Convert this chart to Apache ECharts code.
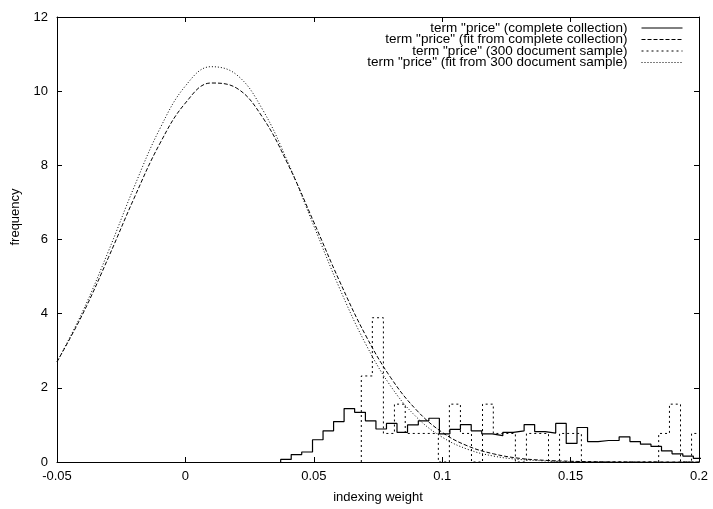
<!DOCTYPE html>
<html>
<head>
<meta charset="utf-8">
<title>term price</title>
<script src="https://cdn.jsdelivr.net/npm/echarts@6/dist/echarts.min.js"></script>
<style>
    html, body { margin: 0; padding: 0; background: #fff; }
    #table { width: 713px; height: 509px; }
</style>
</head>
<body>
<div id="table"></div>
<script>
// fit curves, sampled every 0.01 from -0.05
const fitX = [-0.05, -0.04, -0.03, -0.02, -0.01, 0, 0.01, 0.02, 0.03, 0.04, 0.05, 0.06, 0.07,
    0.08, 0.09, 0.1, 0.11, 0.12, 0.13, 0.14, 0.15, 0.16, 0.17, 0.18, 0.19, 0.2];
const fitComplete = [2.70, 3.99, 5.51, 7.11, 8.58, 9.68, 10.22, 10.08, 9.30, 8.02, 6.47, 4.88, 3.44,
    2.27, 1.40, 0.80, 0.43, 0.22, 0.10, 0.045, 0.02, 0.007, 0.002, 0, 0, 0];
const fitSample = [2.70, 4.06, 5.68, 7.41, 8.98, 10.14, 10.66, 10.44, 9.51, 8.07, 6.37, 4.69, 3.21,
    2.04, 1.21, 0.67, 0.34, 0.16, 0.07, 0.03, 0.01, 0.004, 0, 0, 0, 0];

// histogram of complete collection (bin edges + heights)
const completeEdges = [0.0371, 0.0412, 0.0453, 0.0495, 0.0536, 0.0577, 0.0618, 0.0659, 0.0701, 0.0742,
    0.0783, 0.0824, 0.0865, 0.0907, 0.0948, 0.0989, 0.1030, 0.1071, 0.1113, 0.1154,
    0.1195, 0.1236, 0.1277, 0.1319, 0.1360, 0.1401, 0.1442, 0.1483, 0.1525, 0.1566,
    0.1607, 0.1648, 0.1689, 0.1731, 0.1772, 0.1813, 0.1854, 0.1895, 0.1937, 0.1978, 0.2019];
const completeFreq = [0.07, 0.20, 0.27, 0.60, 0.84, 1.09, 1.44, 1.34, 1.11, 0.89,
    1.04, 0.80, 1.00, 1.11, 1.18, 0.76, 0.88, 1.01, 0.84, 0.76,
    0.71, 0.80, 0.84, 1.01, 0.82, 0.78, 1.04, 0.50, 0.93, 0.55,
    0.58, 0.58, 0.68, 0.55, 0.48, 0.42, 0.30, 0.22, 0.16, 0.10];

// histogram of 300 document sample
const sampleEdges = [0.0685, 0.0728, 0.0771, 0.0814, 0.0856, 0.0899, 0.0942, 0.0985, 0.1028, 0.1071,
    0.1114, 0.1157, 0.1199, 0.1242, 0.1285, 0.1328, 0.1371, 0.1414, 0.1457, 0.1500,
    0.1542, 0.1585, 0.1628, 0.1671, 0.1714, 0.1757, 0.1800, 0.1843, 0.1885, 0.1928, 0.1971, 0.2014];
const sampleFreq = [2.32, 3.89, 0.77, 1.56, 0.77, 0.77, 0.77, 0, 1.56, 0.77,
    0, 1.56, 0.77, 0.77, 0, 0.77, 0.77, 0, 0.77, 0.77,
    0, 0, 0, 0, 0, 0, 0, 0.77, 1.56, 0, 0.77];

const xTicks = [-0.05, 0.2, 0.05];   // min, max, interval
const yTicks = [0, 12, 2];

const names = [
    'term "price" (complete collection)',
    'term "price" (fit from complete collection)',
    'term "price" (300 document sample)',
    'term "price" (fit from 300 document sample)'
];

function histPoints(edges, freq) {
    let pts = [[edges[0], 0]];
    for (let i = 0; i < freq.length; i++) {
        pts.push([edges[i], freq[i]]);
    }
    pts.push([edges[edges.length - 1], 0]);
    return pts;
}

function initTable() {
    let myChart = echarts.init(document.getElementById("table"));
    const font = 'Liberation Sans';
    const axisLine = { show: true, onZero: false, lineStyle: { color: '#000', width: 1 } };
    const tick = { show: true, inside: true, length: 5, lineStyle: { color: '#000' } };
    // one legend per row so every row is right aligned
    const legendRows = [21, 32.5, 44, 55.5];
    let legends = [];
    for (let i = 0; i < names.length; i++) {
        legends.push({
            right: 30,
            top: legendRows[i],
            padding: 0,
            orient: 'vertical',
            align: 'right',
            itemWidth: 41,
            itemHeight: 4,
            selectedMode: false,
            itemStyle: { opacity: 0 },
            lineStyle: { width: 1 },
            data: [names[i]],
            textStyle: { fontFamily: font, fontSize: 13.5, color: '#000', padding: [0, 9, 0, 0] }
        });
    }
    let option = {
        animation: false,
        backgroundColor: '#fff',
        legend: legends,
        grid: { left: 57, right: 14, top: 17, bottom: 47 },
        graphic: [{
            type: 'text',
            x: 15,
            y: 217,
            rotation: Math.PI / 2,
            style: {
                text: 'frequency',
                align: 'center',
                verticalAlign: 'middle',
                fontFamily: font,
                fontSize: 13,
                fill: '#000'
            }
        }],
        xAxis: [{
            type: 'value',
            min: xTicks[0],
            max: xTicks[1],
            interval: xTicks[2],
            name: 'indexing weight',
            nameLocation: 'middle',
            nameGap: 29,
            nameTextStyle: { fontFamily: font, fontSize: 13, color: '#000' },
            axisLine: axisLine,
            axisTick: tick,
            splitLine: { show: false },
            axisLabel: {
                margin: 8,
                fontFamily: font,
                fontSize: 13,
                color: '#000',
                formatter: function (v) { return String(+v.toFixed(2)); }
            }
        }, {
            type: 'value',
            position: 'top',
            min: xTicks[0],
            max: xTicks[1],
            interval: xTicks[2],
            axisLine: axisLine,
            axisTick: tick,
            splitLine: { show: false },
            axisLabel: { show: false }
        }],
        yAxis: [{
            type: 'value',
            min: yTicks[0],
            max: yTicks[1],
            interval: yTicks[2],
            axisLine: axisLine,
            axisTick: tick,
            splitLine: { show: false },
            axisLabel: { margin: 9, fontFamily: font, fontSize: 13, color: '#000' }
        }, {
            type: 'value',
            position: 'right',
            min: yTicks[0],
            max: yTicks[1],
            interval: yTicks[2],
            axisLine: axisLine,
            axisTick: tick,
            splitLine: { show: false },
            axisLabel: { show: false }
        }],
        series: [
            {
                name: names[0],
                type: 'line',
                step: 'end',
                symbol: 'none',
                clip: false,
                data: histPoints(completeEdges, completeFreq),
                color: '#000',
                lineStyle: { color: '#000', width: 1.2, type: 'solid' }
            },
            {
                name: names[1],
                type: 'line',
                smooth: 0.4,
                symbol: 'none',
                data: fitX.map((x, i) => [x, fitComplete[i]]),
                color: '#000',
                lineStyle: { color: '#000', width: 1, type: [4, 2] }
            },
            {
                name: names[2],
                type: 'line',
                step: 'end',
                symbol: 'none',
                clip: false,
                data: histPoints(sampleEdges, sampleFreq),
                color: '#000',
                lineStyle: { color: '#000', width: 1, type: [2, 3] }
            },
            {
                name: names[3],
                type: 'line',
                smooth: 0.4,
                symbol: 'none',
                data: fitX.map((x, i) => [x, fitSample[i]]),
                color: '#000',
                lineStyle: { color: '#000', width: 1, type: [1, 2] }
            }
        ]
    };
    myChart.setOption(option);
    window.onresize = function () {
        myChart.resize();
    }
    return { myChart, option };
}

initTable();
</script>
</body>
</html>
